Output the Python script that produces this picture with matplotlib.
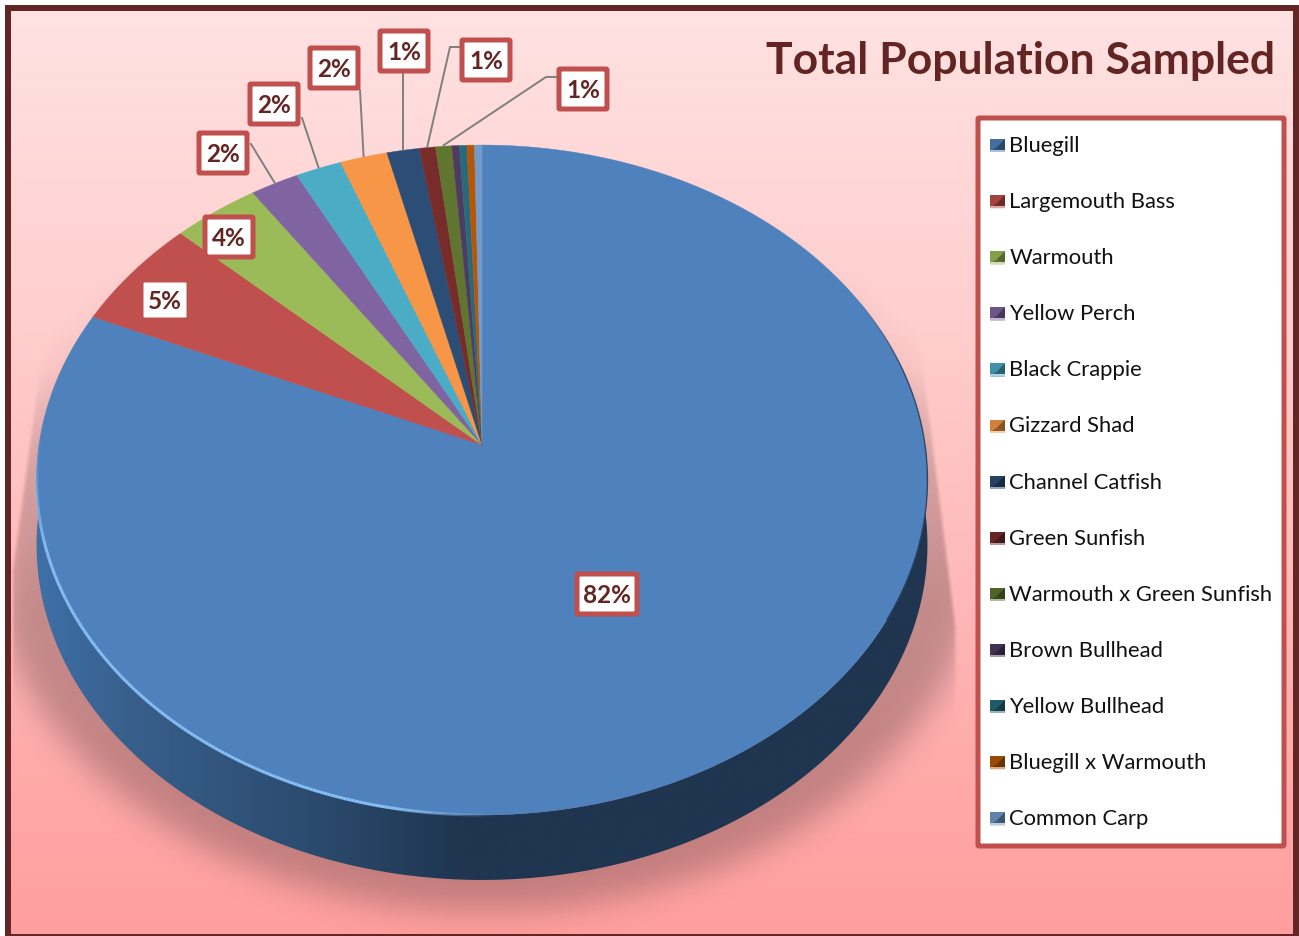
import numpy as np
import matplotlib
matplotlib.use('Agg')
import matplotlib.pyplot as plt
from matplotlib.collections import LineCollection
from matplotlib.patches import FancyBboxPatch, Polygon, Rectangle

species = ['Bluegill', 'Largemouth Bass', 'Warmouth', 'Yellow Perch', 'Black Crappie',
           'Gizzard Shad', 'Channel Catfish', 'Green Sunfish', 'Warmouth x Green Sunfish',
           'Brown Bullhead', 'Yellow Bullhead', 'Bluegill x Warmouth', 'Common Carp']
percent = [81.6, 5.4, 3.5, 1.95, 1.85, 1.9, 1.3, 0.65, 0.65, 0.3, 0.3, 0.3, 0.3]
colors = ['#4F81BD', '#C0504D', '#9BBB59', '#8064A2', '#4BACC6', '#F79646', '#2C4D75',
          '#772C2A', '#5F7530', '#4D3B62', '#276A7C', '#B65708', '#729ACA']
# only the first nine slices carry a data label
label_xy = [(607, 594), (165, 300), (229, 237), (223, 153), (274, 104),
            (334, 68), (404, 51), (486, 60), (583, 89)]
# label box side where the leader starts, elbow is optional
leader_start = {3: [(251, 144)], 4: [(302, 118)], 5: [(360, 90)], 6: [(403, 73)],
                7: [(459, 47), (450, 47)], 8: [(556, 77), (546, 77)]}

RED = '#C0504D'
DARK = '#632523'
W, H = 1299, 936
plt.rcParams['font.family'] = ['Lato', 'DejaVu Sans']

# pie is a tilted disc: circle seen in perspective, apex is off the ellipse centre
APEX = (482, 445)
A, B, K = 443.0, 331.3, 0.1045
DEPTH = 65


def disc(theta):
    # theta clockwise from 12 o'clock, radians
    u, v = np.sin(theta), np.cos(theta)
    d = 1 + K * v
    return APEX[0] + A * u / d, APEX[1] - B * v / d


def blur(img, n, passes=3):
    kern = np.ones(n) / n
    for _ in range(passes):
        img = np.apply_along_axis(lambda r: np.convolve(r, kern, mode='same'), 0, img)
        img = np.apply_along_axis(lambda r: np.convolve(r, kern, mode='same'), 1, img)
    return img


fig = plt.figure(figsize=(W / 100, H / 100), dpi=100, facecolor='white')
ax = fig.add_axes([0, 0, 1, 1])

# background gradient
yy = np.linspace(0, 1, 256)
stops = np.array([[255, 226, 226], [255, 205, 205], [255, 175, 175], [255, 158, 158]]) / 255
grad = np.stack([np.interp(yy, [0, 0.35, 0.75, 1], stops[:, i]) for i in range(3)], axis=1)
bg = ax.imshow(grad[:, None, :], extent=(8, W - 2, H, 8), aspect='auto', zorder=0)

# soft shadow under the pie
sy, sx = np.mgrid[0:H:2, 0:W:2]
sil = (((sx - 484) / 495.0) ** 2 + ((sy - 548) / 362.0) ** 2 < 1).astype(float)
sil = blur(sil, 15)
fan = np.clip((sy - 370) / 230.0, 0, 1) ** 0.7
left_edge = np.maximum(37 - (sy - 370) * 0.135, 10)
right_edge = np.minimum(925 + (sy - 370) * 0.125, 957)
inside = np.clip((sx - left_edge) / 4, 0, 1) * np.clip((right_edge - sx) / 4, 0, 1)
alpha = 0.36 * sil * (0.25 + 0.75 * fan) * inside
shadow = np.zeros(alpha.shape + (4,))
shadow[..., 0], shadow[..., 1], shadow[..., 2] = 0.36, 0.24, 0.24
shadow[..., 3] = alpha
ax.imshow(shadow, extent=(0, W, H, 0), aspect='auto', interpolation='bilinear', zorder=1)

# side wall with left-to-right shading
t = np.linspace(np.pi * 0.5, np.pi * 1.5, 300)
rx, ry = disc(t)
wall_pts = np.r_[np.c_[rx, ry], np.c_[rx[::-1], ry[::-1] + DEPTH]]
wall_x = np.linspace(0, 1, 512)
wall_stops = np.array([[62, 112, 168], [56, 96, 140], [44, 76, 112], [31, 53, 80], [31, 53, 80]]) / 255
wall_grad = np.stack([np.interp(wall_x, [0, 0.1, 0.3, 0.48, 1], wall_stops[:, i]) for i in range(3)], axis=1)
wall = ax.imshow(wall_grad[None, :, :], extent=(36, 928, 950, 300), aspect='auto', zorder=2)
wall_clip = Polygon(wall_pts, closed=True, transform=ax.transData)
wall.set_clip_path(wall_clip)

# top face, one wedge per species, clockwise from 12 o'clock
edges = np.r_[0, np.cumsum(percent)] / np.sum(percent) * 2 * np.pi
mids = (edges[:-1] + edges[1:]) / 2
for i, col in enumerate(colors):
    th = np.linspace(edges[i], edges[i + 1], max(int((edges[i + 1] - edges[i]) * 120), 3))
    x, y = disc(th)
    pts = np.r_[[APEX], np.c_[x, y]]
    ax.add_patch(Polygon(pts, closed=True, facecolor=col, edgecolor=col, lw=0.3, zorder=3))

# bright rim on the lower left, dark rim on the right
th = np.linspace(np.radians(178), np.radians(272), 200)
x, y = disc(th)
seg = np.stack([np.c_[x[:-1], y[:-1]], np.c_[x[1:], y[1:]]], axis=1)
a = np.clip((th[:-1] - np.radians(178)) / np.radians(12), 0, 1)
seg_rgba = np.tile(matplotlib.colors.to_rgba('#86BDF2'), (len(seg), 1))
seg_rgba[:, 3] = a * np.clip((np.radians(272) - th[:-1]) / np.radians(20), 0, 1)
ax.add_collection(LineCollection(seg, colors=seg_rgba, linewidths=2.2, zorder=4))
th = np.linspace(np.radians(62), np.radians(120), 120)
x, y = disc(th)
seg = np.stack([np.c_[x[:-1], y[:-1]], np.c_[x[1:], y[1:]]], axis=1)
seg_rgba = np.tile(matplotlib.colors.to_rgba('#1F3550'), (len(seg), 1))
seg_rgba[:, 3] = 0.8 * np.clip((th[:-1] - np.radians(62)) / np.radians(15), 0, 1)
ax.add_collection(LineCollection(seg, colors=seg_rgba, linewidths=1.0, zorder=4))

# leader lines run from label boxes to the middle of their wedge
for i, start in leader_start.items():
    ex, ey = disc(mids[i])
    pts = np.array(start + [(ex, ey - 1)])
    ax.plot(pts[:, 0], pts[:, 1], color='#7F7F7F', lw=1.4, zorder=5)

# data labels, box gets wider with the text
for val, (lx, ly) in zip(percent, label_xy):
    txt = f'{round(val)}%'
    half = 30 if len(txt) > 2 else 24
    ax.add_patch(FancyBboxPatch((lx - half, ly - 20), 2 * half, 40,
                                boxstyle='round,pad=0,rounding_size=1',
                                facecolor='white', edgecolor=RED, lw=3.6, zorder=6))
    ax.text(lx, ly + 1.5, txt, ha='center', va='center', fontsize=17.5, fontweight='bold',
            color=DARK, zorder=7)

# legend box
ax.add_patch(FancyBboxPatch((978, 118), 306, 728, boxstyle='round,pad=0,rounding_size=1',
                            facecolor='white', edgecolor=RED, lw=3.6, zorder=6))
for i, (name, col) in enumerate(zip(species, colors)):
    ky = 145 + 56.1 * i
    c = np.array(matplotlib.colors.to_rgb(col))
    ax.add_patch(Rectangle((990, ky - 6), 15, 13, facecolor=c * 0.85, lw=0, zorder=7))
    ax.add_patch(Polygon([(1005, ky - 6), (1005, ky + 7), (997, ky + 2)], closed=True,
                         facecolor=c * 0.55, lw=0, zorder=7))
    ax.add_patch(Polygon([(990, ky + 7), (1005, ky + 7), (997, ky + 2)], closed=True,
                         facecolor=c * 0.6, lw=0, zorder=7))
    ax.add_patch(Rectangle((990, ky + 5), 15, 2, facecolor=c * 0.5 + 0.5, lw=0, zorder=7))
    ax.text(1009.5, ky + 1, name, ha='left', va='center', fontsize=15.85, color='#111111', zorder=7)

ax.text(1275, 61, 'Total Population Sampled', ha='right', va='center', fontsize=32,
        fontweight='bold', color=DARK, zorder=7)

# outer frame, bottom edge runs off the canvas
ax.add_patch(Rectangle((8, 8), W - 11, H - 7, fill=False, edgecolor=DARK, lw=4.3, zorder=8))

ax.set_xlim(0, W)
ax.set_ylim(H, 0)
ax.axis('off')
fig.savefig('out.png', dpi=100)
